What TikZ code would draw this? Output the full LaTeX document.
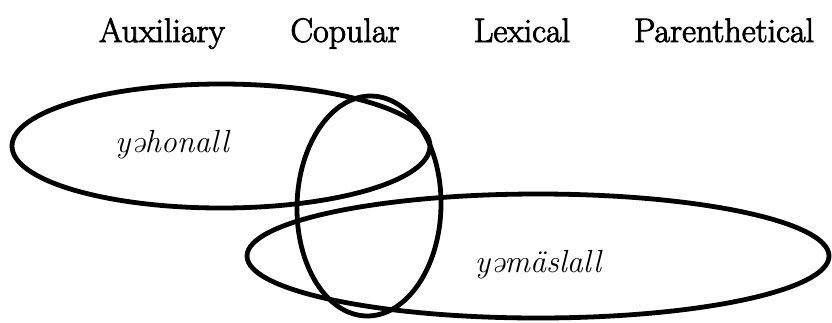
\documentclass[tikz,border=0pt]{standalone}
\usepackage{fontspec}
\newfontfamily\hdrfont[FakeBold=2.5]{Latin Modern Roman}
\tikzset{
  hdr/.style={anchor=base, inner sep=0pt, font=\hdrfont\fontsize{34}{38}\selectfont},
  lbl/.style={anchor=base, inner sep=0pt, font=\itshape\fontsize{32}{36}\selectfont},
  ring/.style={draw=black, line width=4.8pt}
}
\begin{document}
\begin{tikzpicture}[x=1pt,y=-1pt]
\useasboundingbox (0,0) rectangle (832,322);
\node[hdr] (aux) at (162,42) {Auxiliary};
\node[hdr] (cop) at (345,42) {Copular};
\node[hdr] (lex) at (522,42) {Lexical};
\node[hdr] (par) at (724,42) {Parenthetical};
\draw[ring] (221,146) ellipse [x radius=209pt, y radius=62pt];
\draw[ring, rotate around={-1.5:(369,206)}] (369,206) ellipse [x radius=72pt, y radius=110pt];
\draw[ring] (538,256) ellipse [x radius=291pt, y radius=62pt];
\node[lbl] (yah) at (172,152) {yəhonall};
\node[lbl] (yam) at (538,272) {yəmäslall};
\end{tikzpicture}
\end{document}
